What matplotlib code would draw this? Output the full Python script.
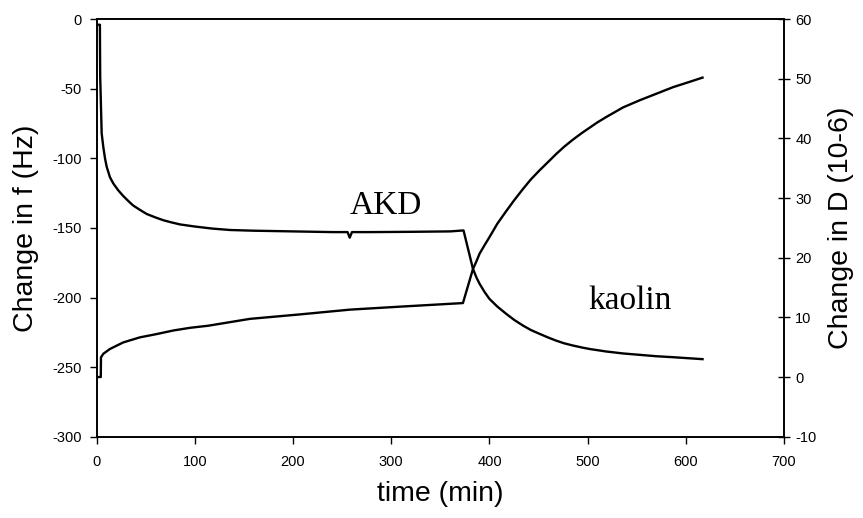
import matplotlib
matplotlib.use("Agg")
import matplotlib.pyplot as plt

# ---- data ----
time_f = [0, 3.3, 3.6, 5.1, 6.8, 8.5, 10.2, 13.5, 16.9, 22, 27, 32, 37, 44, 51,
          60, 68, 76, 85, 100, 118, 136, 160, 200, 240, 255.5, 257.7, 260, 280,
          320, 360, 373.6, 383.2, 387, 390, 395, 400, 408, 417, 425, 434, 442,
          451, 460, 468, 476, 485, 494, 502, 519, 536, 553, 570, 587, 602, 617]
freq = [-4, -4, -41, -82, -92, -100, -106, -113.5, -118, -123, -127, -130.5,
        -133.8, -137, -140, -142.5, -144.5, -146, -147.5, -149, -150.5, -151.5,
        -152, -152.5, -153, -153, -157, -153, -153, -152.8, -152.5, -151.8,
        -179.4, -186, -190.2, -196, -201, -206.5, -211.7, -216, -220.1, -223.3,
        -226.1, -228.8, -231, -232.9, -234.5, -235.9, -237, -238.8, -240.2,
        -241.2, -242.2, -242.9, -243.6, -244.3]

time_d = [0, 4.2, 4.4, 6.8, 13.5, 27, 44, 61, 78, 95, 113.5, 156, 207, 258,
          309, 373, 383.2, 387, 390, 395, 400, 408, 417, 425, 434, 442, 451,
          460, 468, 476, 485, 494, 502, 510, 519, 536, 553, 570, 587, 604, 617]
dissip = [0, 0, 3.3, 3.9, 4.7, 5.8, 6.65, 7.2, 7.8, 8.25, 8.6, 9.75, 10.5,
          11.3, 11.8, 12.4, 18.1, 19.5, 20.7, 22.1, 23.45, 25.7, 27.8, 29.6,
          31.5, 33.1, 34.65, 36.1, 37.4, 38.6, 39.8, 40.9, 41.8, 42.7, 43.6,
          45.2, 46.4, 47.5, 48.6, 49.5, 50.2]

x_ticks = [0, 100, 200, 300, 400, 500, 600, 700]
f_ticks = [-300, -250, -200, -150, -100, -50, 0]
d_ticks = [-10, 0, 10, 20, 30, 40, 50, 60]

labels = {"AKD": (294.8, -140.3), "kaolin": (543.5, -208.4)}

sans = ["Liberation Sans", "DejaVu Sans"]
serif = ["Liberation Serif", "DejaVu Serif"]
plt.rcParams["font.family"] = sans
plt.rcParams["axes.unicode_minus"] = False

fig = plt.figure(figsize=(8.63, 5.18), dpi=100)
ax = fig.add_axes([0.112, 0.157, 0.7965, 0.806])
ax2 = ax.twinx()

ax.plot(time_f, freq, color="black", lw=1.7)
ax2.plot(time_d, dissip, color="black", lw=1.7)

ax.set_xlim(0, 700)
ax.set_ylim(-300, 0)
ax2.set_ylim(-10, 60)
ax.set_xticks(x_ticks)
ax.set_yticks(f_ticks)
ax2.set_yticks(d_ticks)

ax.tick_params(axis="both", direction="out", length=5, width=1,
               labelsize=10.5, colors="black")
ax.tick_params(axis="x", pad=8)
ax.tick_params(axis="y", pad=6)
ax2.tick_params(axis="y", direction="inout", length=8, width=1,
                labelsize=10.5, pad=4)

for a in (ax, ax2):
    for s in a.spines.values():
        s.set_linewidth(1.2)
        s.set_color("black")

ax.set_xlabel("time (min)", fontsize=20.5, labelpad=9)
ax.set_ylabel("Change in f (Hz)", fontsize=20.5, labelpad=9)
ax2.set_ylabel("Change in D (10-6)", fontsize=20.5, labelpad=8)

for txt, (tx, ty) in labels.items():
    ax.text(tx, ty, txt, fontsize=24, family=serif, ha="center",
            va="baseline", color="black")

fig.savefig("out.png", dpi=100)
